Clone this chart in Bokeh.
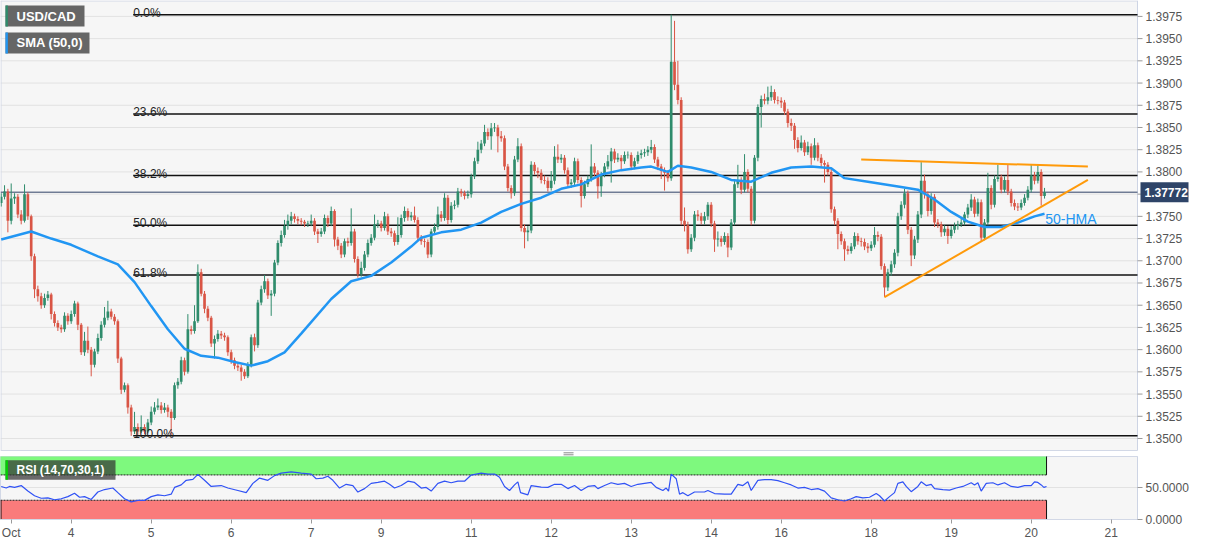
import numpy as np
from bokeh.plotting import figure
from bokeh.layouts import column
from bokeh.models import (Range1d, FixedTicker, Label, BoxAnnotation,
                          ColumnDataSource, NumeralTickFormatter)
from bokeh.core.properties import value
from bokeh.embed import file_html
from bokeh.resources import INLINE

# ---------------- data (hourly USD/CAD candles, index = hour slot) ----------------
open_first = 1.3765
close = [
1.3772,1.3778,1.3745,1.3770,1.3772,1.3752,1.3745,1.3775,1.3750,1.3705,
1.3668,1.3660,1.3650,1.3658,1.3662,1.3640,1.3630,1.3625,1.3623,1.3638,
1.3632,1.3640,1.3652,1.3628,1.3597,1.3610,1.3600,1.3583,1.3598,1.3613,
1.3628,1.3636,1.3643,1.3637,1.3632,1.3590,1.3555,1.3560,1.3535,1.3508,
1.3513,1.3508,1.3513,1.3508,1.3518,1.3530,1.3535,1.3537,1.3532,1.3535,
1.3530,1.3523,1.3560,1.3564,1.3588,1.3575,1.3623,1.3621,1.3632,1.3687,
1.3663,1.3646,1.3636,1.3607,1.3612,1.3618,1.3616,1.3614,1.3597,1.3588,
1.3582,1.3580,1.3575,1.3570,1.3583,1.3614,1.3605,1.3653,1.3668,1.3677,
1.3661,1.3663,1.3698,1.3720,1.3729,1.3739,1.3745,1.3750,1.3747,1.3745,
1.3744,1.3742,1.3742,1.3745,1.3733,1.3730,1.3733,1.3748,1.3742,1.3756,
1.3724,1.3717,1.3707,1.3722,1.3720,1.3733,1.3702,1.3685,1.3692,1.3707,
1.3720,1.3726,1.3741,1.3742,1.3737,1.3750,1.3733,1.3731,1.3721,1.3729,
1.3748,1.3756,1.3749,1.3751,1.3746,1.3726,1.3722,1.3721,1.3707,1.3733,
1.3738,1.3752,1.3748,1.3771,1.3746,1.3762,1.3763,1.3778,1.3776,1.3773,
1.3775,1.3795,1.3812,1.3825,1.3832,1.3845,1.3840,1.3849,1.3850,1.3840,
1.3838,1.3806,1.3782,1.3776,1.3814,1.3829,1.3737,1.3732,1.3734,1.3808,
1.3801,1.3799,1.3791,1.3790,1.3782,1.3790,1.3817,1.3814,1.3816,1.3802,
1.3786,1.3788,1.3812,1.3791,1.3773,1.3786,1.3792,1.3806,1.3799,1.3784,
1.3797,1.3806,1.3812,1.3823,1.3814,1.3816,1.3812,1.3819,1.3819,1.3806,
1.3812,1.3819,1.3821,1.3822,1.3825,1.3828,1.3814,1.3806,1.3801,1.3799,
1.3793,1.3924,1.3898,1.3881,1.3745,1.3740,1.3713,1.3726,1.3752,1.3750,
1.3745,1.3750,1.3763,1.3742,1.3724,1.3725,1.3721,1.3728,1.3715,1.3743,
1.3786,1.3790,1.3780,1.3800,1.3781,1.3745,1.3816,1.3873,1.3882,1.3880,
1.3884,1.3890,1.3881,1.3880,1.3878,1.3868,1.3855,1.3852,1.3836,1.3827,
1.3833,1.3822,1.3829,1.3816,1.3830,1.3816,1.3810,1.3808,1.3800,1.3758,
1.3745,1.3730,1.3722,1.3713,1.3711,1.3716,1.3728,1.3722,1.3721,1.3716,
1.3714,1.3718,1.3729,1.3727,1.3694,1.3670,1.3687,1.3696,1.3709,1.3750,
1.3763,1.3776,1.3735,1.3706,1.3724,1.3752,1.3790,1.3775,1.3756,1.3772,
1.3743,1.3741,1.3732,1.3736,1.3728,1.3735,1.3739,1.3741,1.3743,1.3752,
1.3760,1.3769,1.3753,1.3766,1.3726,1.3743,1.3782,1.3763,1.3792,1.3794,
1.3780,1.3791,1.3778,1.3765,1.3761,1.3760,1.3765,1.3771,1.3780,1.3796,
1.3790,1.3800,1.3773,1.3777]

high = [
1.3776,1.3785,1.3781,1.3787,1.3776,1.3775,1.3757,1.3786,1.3777,1.3752,
1.3708,1.3672,1.3664,1.3663,1.3666,1.3664,1.3643,1.3633,1.3628,1.3642,
1.3641,1.3644,1.3655,1.3654,1.3630,1.3620,1.3626,1.3603,1.3601,1.3618,
1.3632,1.3648,1.3655,1.3646,1.3640,1.3634,1.3592,1.3563,1.3562,1.3538,
1.3530,1.3517,1.3526,1.3516,1.3522,1.3536,1.3541,1.3545,1.3541,1.3540,
1.3538,1.3533,1.3563,1.3568,1.3592,1.3591,1.3640,1.3627,1.3650,1.3696,
1.3691,1.3666,1.3649,1.3638,1.3616,1.3622,1.3621,1.3619,1.3616,1.3600,
1.3591,1.3586,1.3583,1.3578,1.3586,1.3617,1.3618,1.3656,1.3672,1.3684,
1.3680,1.3667,1.3701,1.3723,1.3734,1.3746,1.3752,1.3755,1.3753,1.3750,
1.3748,1.3746,1.3745,1.3752,1.3748,1.3736,1.3737,1.3752,1.3751,1.3761,
1.3758,1.3727,1.3720,1.3725,1.3726,1.3759,1.3736,1.3705,1.3699,1.3711,
1.3724,1.3730,1.3752,1.3746,1.3745,1.3755,1.3753,1.3737,1.3734,1.3749,
1.3752,1.3761,1.3759,1.3755,1.3761,1.3749,1.3729,1.3725,1.3724,1.3736,
1.3742,1.3761,1.3756,1.3776,1.3774,1.3766,1.3768,1.3782,1.3781,1.3779,
1.3779,1.3798,1.3816,1.3834,1.3836,1.3853,1.3849,1.3855,1.3855,1.3853,
1.3846,1.3841,1.3809,1.3785,1.3818,1.3838,1.3832,1.3741,1.3739,1.3812,
1.3811,1.3805,1.3803,1.3796,1.3794,1.3801,1.3829,1.3831,1.3820,1.3819,
1.3805,1.3792,1.3816,1.3815,1.3794,1.3790,1.3796,1.3831,1.3810,1.3802,
1.3800,1.3810,1.3819,1.3827,1.3826,1.3821,1.3819,1.3823,1.3823,1.3822,
1.3816,1.3823,1.3825,1.3826,1.3829,1.3836,1.3831,1.3817,1.3809,1.3805,
1.3802,1.3977,1.3970,1.3925,1.3884,1.3760,1.3744,1.3730,1.3756,1.3757,
1.3754,1.3755,1.3766,1.3766,1.3745,1.3733,1.3728,1.3732,1.3731,1.3747,
1.3792,1.3808,1.3794,1.3820,1.3803,1.3784,1.3819,1.3876,1.3886,1.3888,
1.3896,1.3897,1.3893,1.3885,1.3884,1.3881,1.3871,1.3860,1.3855,1.3839,
1.3841,1.3836,1.3834,1.3832,1.3838,1.3833,1.3820,1.3813,1.3811,1.3803,
1.3761,1.3748,1.3733,1.3725,1.3717,1.3720,1.3732,1.3731,1.3726,1.3725,
1.3720,1.3722,1.3738,1.3733,1.3730,1.3697,1.3691,1.3700,1.3713,1.3754,
1.3767,1.3781,1.3779,1.3738,1.3728,1.3756,1.3811,1.3797,1.3778,1.3776,
1.3775,1.3747,1.3744,1.3740,1.3739,1.3739,1.3743,1.3745,1.3747,1.3755,
1.3764,1.3775,1.3772,1.3770,1.3769,1.3747,1.3799,1.3785,1.3796,1.3808,
1.3797,1.3795,1.3808,1.3781,1.3769,1.3765,1.3769,1.3775,1.3784,1.3808,
1.3800,1.3808,1.3803,1.3782]

low = [
1.3761,1.3769,1.3732,1.3741,1.3764,1.3748,1.3741,1.3743,1.3746,1.3700,
1.3658,1.3654,1.3646,1.3647,1.3655,1.3634,1.3626,1.3621,1.3619,1.3620,
1.3628,1.3629,1.3637,1.3622,1.3594,1.3593,1.3596,1.3570,1.3580,1.3595,
1.3610,1.3625,1.3633,1.3634,1.3628,1.3585,1.3550,1.3552,1.3528,1.3503,
1.3505,1.3504,1.3506,1.3505,1.3506,1.3515,1.3527,1.3532,1.3528,1.3529,
1.3524,1.3504,1.3521,1.3556,1.3561,1.3571,1.3573,1.3617,1.3618,1.3630,
1.3660,1.3641,1.3632,1.3603,1.3590,1.3609,1.3612,1.3610,1.3593,1.3584,
1.3578,1.3576,1.3565,1.3567,1.3568,1.3580,1.3598,1.3602,1.3650,1.3664,
1.3657,1.3638,1.3660,1.3695,1.3716,1.3726,1.3735,1.3741,1.3743,1.3741,
1.3740,1.3738,1.3738,1.3739,1.3729,1.3720,1.3727,1.3730,1.3738,1.3739,
1.3716,1.3712,1.3703,1.3704,1.3716,1.3717,1.3698,1.3681,1.3682,1.3689,
1.3704,1.3717,1.3723,1.3737,1.3733,1.3734,1.3729,1.3727,1.3717,1.3718,
1.3726,1.3744,1.3745,1.3745,1.3743,1.3722,1.3718,1.3715,1.3703,1.3704,
1.3730,1.3735,1.3744,1.3745,1.3741,1.3743,1.3758,1.3760,1.3772,1.3769,
1.3770,1.3771,1.3792,1.3809,1.3821,1.3829,1.3836,1.3825,1.3845,1.3822,
1.3834,1.3802,1.3778,1.3770,1.3773,1.3811,1.3733,1.3714,1.3722,1.3731,
1.3797,1.3793,1.3787,1.3786,1.3778,1.3779,1.3786,1.3810,1.3810,1.3798,
1.3782,1.3782,1.3785,1.3787,1.3760,1.3770,1.3783,1.3789,1.3795,1.3770,
1.3772,1.3794,1.3803,1.3788,1.3810,1.3811,1.3803,1.3809,1.3815,1.3802,
1.3803,1.3809,1.3815,1.3817,1.3818,1.3821,1.3810,1.3802,1.3792,1.3779,
1.3789,1.3790,1.3892,1.3876,1.3740,1.3733,1.3708,1.3710,1.3722,1.3745,
1.3741,1.3741,1.3746,1.3738,1.3710,1.3716,1.3716,1.3718,1.3704,1.3712,
1.3740,1.3782,1.3775,1.3777,1.3777,1.3740,1.3742,1.3812,1.3850,1.3876,
1.3876,1.3880,1.3877,1.3876,1.3872,1.3864,1.3850,1.3846,1.3826,1.3822,
1.3824,1.3818,1.3819,1.3808,1.3813,1.3812,1.3806,1.3788,1.3796,1.3754,
1.3740,1.3713,1.3718,1.3700,1.3707,1.3708,1.3713,1.3718,1.3716,1.3712,
1.3709,1.3711,1.3715,1.3722,1.3690,1.3659,1.3666,1.3683,1.3692,1.3705,
1.3746,1.3759,1.3730,1.3694,1.3702,1.3720,1.3748,1.3770,1.3750,1.3752,
1.3738,1.3737,1.3727,1.3728,1.3719,1.3725,1.3731,1.3735,1.3738,1.3740,
1.3748,1.3756,1.3749,1.3750,1.3722,1.3723,1.3740,1.3758,1.3760,1.3789,
1.3776,1.3777,1.3774,1.3761,1.3757,1.3756,1.3757,1.3762,1.3768,1.3777,
1.3786,1.3787,1.3762,1.3770]

# 50-period hourly moving average, read at sample candles
sma_idx = [0, 9, 15, 21, 29, 35, 40, 45, 50, 55,
           60, 65, 70, 75, 80, 85, 90, 99, 105, 111,
           117, 123, 126, 132, 138, 144, 150, 156, 162, 168,
           174, 180, 186, 192, 195, 200, 203, 207, 213, 219,
           225, 231, 237, 243, 249, 253, 260, 270, 275, 280,
           285, 290, 295, 300, 305, 310, 313]
sma_val = [1.3724, 1.3733, 1.3725, 1.3718, 1.3705, 1.3696, 1.3676, 1.3649, 1.3623, 1.3601,
           1.3593, 1.3591, 1.3586, 1.3582, 1.3587, 1.3597, 1.3618, 1.3657, 1.3677, 1.3683,
           1.3698, 1.3716, 1.3726, 1.3732, 1.3735, 1.3743, 1.3755, 1.3764, 1.3771, 1.3781,
           1.3786, 1.3797, 1.3802, 1.3805, 1.3806, 1.3800, 1.3807, 1.3805, 1.3800, 1.3791,
           1.3789, 1.3799, 1.3805, 1.3806, 1.3804, 1.3793, 1.3789, 1.3783, 1.3780, 1.3769,
           1.3755, 1.3744, 1.3738, 1.3738, 1.3743, 1.3750, 1.3753]

# RSI(14)
rsi_idx = [0, 1.5, 2.5, 4, 6, 8, 10, 12, 14, 16,
           18, 20, 22, 23.5, 25, 27, 29, 31, 33.5, 35,
           37, 39, 41, 43, 45, 47, 49, 51, 52, 54,
           55.5, 57.5, 59, 61, 63, 66, 68, 71, 73.5, 75.5,
           77.5, 80, 82, 84, 87, 90, 93, 94.5, 96.5, 98,
           99.5, 101.5, 103.5, 105.5, 107, 109, 111, 113, 115, 116.5,
           118, 120, 122, 124, 126, 127.5, 129, 131, 133, 135,
           137, 139, 141, 144, 146, 148, 149.5, 151, 152.5, 154,
           155, 155.8, 158, 159, 162, 164, 166, 168, 170, 172,
           174, 176, 178, 179, 181, 183, 185, 187, 189, 191,
           193, 195, 196.5, 198.5, 199.5, 200.2, 201, 202.5, 203.5, 204.5,
           206, 208, 211, 212, 214, 217, 219, 221, 222.5, 224,
           225, 227, 229, 231, 233, 235, 237, 239, 241, 243,
           245, 247, 249, 251, 253, 255, 256.5, 258.5, 260.5, 262.5,
           263.5, 265, 266.5, 268, 269, 270.5, 271.5, 273, 275, 276,
           277.5, 279, 280, 282.5, 284.5, 286.5, 288.5, 291, 292, 293,
           294, 295.5, 297.5, 299, 301, 303, 305, 307, 309, 310,
           311, 312, 312.8, 313.6]
rsi_val = [51.8, 49.3, 51.8, 50.3, 53.2, 44.5, 37.1, 33.2, 33.7, 30.8,
           32.3, 35.7, 41.0, 34.7, 35.7, 31.3, 43.0, 46.9, 49.3, 42.0,
           32.3, 27.4, 29.8, 29.8, 35.7, 38.6, 37.1, 39.6, 50.3, 54.2,
           61.5, 63.0, 70.8, 61.5, 51.8, 53.2, 49.3, 45.4, 42.0, 56.7,
           65.0, 61.5, 68.9, 72.8, 74.7, 72.8, 71.3, 64.0, 65.0, 67.9,
           61.5, 49.3, 55.2, 53.2, 43.0, 48.4, 56.7, 58.1, 60.1, 55.2,
           49.3, 53.2, 60.1, 58.1, 49.3, 50.3, 44.5, 56.7, 60.1, 57.6,
           60.1, 60.1, 69.8, 72.8, 71.3, 71.3, 66.4, 51.8, 45.4, 54.2,
           59.1, 42.0, 38.6, 53.2, 50.8, 50.3, 55.2, 55.2, 48.4, 53.2,
           45.4, 51.8, 53.2, 48.4, 53.2, 57.6, 55.2, 56.7, 51.8, 55.2,
           56.7, 58.1, 50.3, 45.4, 49.3, 44.5, 71.3, 64.0, 39.6, 42.0,
           37.1, 43.0, 43.0, 45.4, 40.6, 39.6, 39.6, 55.2, 53.2, 59.1,
           45.4, 61.5, 62.5, 62.5, 61.0, 57.6, 54.2, 49.3, 50.3, 46.9,
           48.4, 44.5, 33.7, 30.8, 28.8, 32.3, 35.7, 33.7, 34.7, 40.6,
           37.1, 28.8, 35.7, 42.0, 56.7, 59.1, 51.8, 43.5, 51.8, 59.1,
           53.2, 55.2, 48.4, 46.9, 45.9, 49.3, 51.8, 57.6, 54.2, 57.6,
           44.5, 56.7, 57.6, 54.2, 57.6, 51.8, 50.3, 53.2, 53.2, 59.1,
           58.1, 54.2, 50.3, 51.8]

# trend lines (symmetrical triangle) drawn on the chart
trend_top_idx = [258, 326]
trend_top_px = [1.3814, 1.3806]
trend_bot_idx = [265, 326]
trend_bot_px = [1.3659, 1.3791]

fib_ratios = [0.0, 0.236, 0.382, 0.5, 0.618, 1.0]
fib_names = ["0.0%", "23.6%", "38.2%", "50.0%", "61.8%", "100.0%"]
last_price = 1.37772
price_ticks = [1.3500, 1.3525, 1.3550, 1.3575, 1.3600, 1.3625, 1.3650, 1.3675,
               1.3700, 1.3725, 1.3750, 1.3775, 1.3800, 1.3825, 1.3850, 1.3875,
               1.3900, 1.3925, 1.3950, 1.3975]
rsi_ticks = [0, 50]
day_tick_idx = [3, 21, 45, 69, 93, 114, 141, 165, 189, 213, 234, 261, 285, 309, 333]
day_tick_lbl = ["Oct", "4", "5", "6", "7", "9", "11", "12", "13", "14", "16", "18", "19", "20", "21"]

# ---------------- styling / layout ----------------
FONT = "Liberation Sans"
GREEN = "#2f8c6c"
RED = "#d95545"
BLUE = "#2196f3"
BG = "#f6f6f6"
EDGE = "#d2d8e6"
AXC = "#cdd4e4"

PXU = 1137 / 341.1            # pixels per candle slot
X0 = -0.21
X_AX = X0 + 1137 / PXU        # right edge of the plotting area (price axis line)
X_END = X0 + 1191 / PXU       # canvas right edge
P_BOT, P_TOP = 1.34865, 1.39929
PLOT_H = 450
GAP = 6
UPP = (P_TOP - P_BOT) / PLOT_H   # price units per pixel

n = len(close)
opens = [open_first] + close[:-1]
tops, bots, cols = [], [], []
for o, c in zip(opens, close):
    t, b = max(o, c), min(o, c)
    if t - b < 0.00006:
        m = (t + b) / 2
        t, b = m + 0.00003, m - 0.00003
    tops.append(t)
    bots.append(b)
    cols.append(GREEN if c >= o else RED)
src = ColumnDataSource(dict(x=list(range(n)), h=high, l=low, top=tops, bot=bots, col=cols))

main = figure(frame_width=1191, frame_height=PLOT_H + GAP,
              x_range=Range1d(X0, X_END), y_range=Range1d(P_BOT - GAP * UPP, P_TOP),
              output_backend="svg", toolbar_location=None,
              x_axis_location=None, y_axis_location=None,
              min_border_left=0, min_border_top=0, min_border_bottom=0, min_border_right=0,
              background_fill_color="white", border_fill_color="white",
              outline_line_color=None)
main.xgrid.grid_line_color = None
main.ygrid.grid_line_color = None

# plotting area background, grid, borders, hand-drawn price axis
main.quad(left=X0 - 1, right=X_AX, bottom=P_BOT, top=P_TOP + UPP, fill_color=BG, line_color=None)
main.segment(x0=X0, x1=X_AX, y0=price_ticks, y1=price_ticks, line_color="#e2e2e2", line_width=1)
main.segment(x0=X0 + 0.15, x1=X0 + 0.15, y0=P_BOT, y1=P_TOP, line_color=EDGE, line_width=1)
main.segment(x0=X0, x1=X_AX, y0=P_TOP - 0.5 * UPP, y1=P_TOP - 0.5 * UPP, line_color=EDGE, line_width=1)
main.segment(x0=X0, x1=X_AX, y0=P_BOT, y1=P_BOT, line_color=EDGE, line_width=1)
main.segment(x0=X_AX, x1=X_AX, y0=P_BOT, y1=P_TOP, line_color=AXC, line_width=1)
main.segment(x0=X_AX, x1=X_AX + 5 / PXU, y0=price_ticks, y1=price_ticks, line_color="#9a9a9a", line_width=1)
main.text(x=[X_AX + 8 / PXU] * len(price_ticks), y=price_ticks,
          text=["%.4f" % t for t in price_ticks], text_font=value(FONT),
          text_font_size="12px", text_color="#555555", text_baseline="middle", text_align="left")

# panel splitter handle
main.segment(x0=170.2 - 5 / PXU, x1=170.2 + 5 / PXU, y0=P_BOT - 2.3 * UPP, y1=P_BOT - 2.3 * UPP,
             line_color="#8a8a8a", line_width=1)
main.segment(x0=170.2 - 5 / PXU, x1=170.2 + 5 / PXU, y0=P_BOT - 4.3 * UPP, y1=P_BOT - 4.3 * UPP,
             line_color="#8a8a8a", line_width=1)

# Fibonacci retracement from swing low to CPI high
hi = max(high)
lo = min(low)
fib_x0 = int(np.argmin(low)) + 0.6
for r, name in zip(fib_ratios, fib_names):
    lvl = hi - r * (hi - lo)
    main.segment(x0=fib_x0, y0=lvl, x1=X_AX, y1=lvl, line_color="#111111", line_width=1.5)
    main.add_layout(Label(x=fib_x0, y=lvl, text=name, text_font=FONT, text_font_size="12px",
                          text_color="#222222", text_baseline="alphabetic", y_offset=2))

# last price line
main.segment(x0=X0, x1=X_AX, y0=last_price, y1=last_price, line_color="#2e4165", line_width=1)

# candles
main.segment(x0="x", y0="h", x1="x", y1="l", source=src, line_color="col", line_width=1)
main.vbar(x="x", width=0.8, top="top", bottom="bot", source=src, fill_color="col", line_color=None)

# moving average and trend lines
main.line(sma_idx, sma_val, line_color=BLUE, line_width=2.5)
main.line(trend_top_idx, trend_top_px, line_color="#ff9a0a", line_width=2)
main.line(trend_bot_idx, trend_bot_px, line_color="#ff9a0a", line_width=2)

main.add_layout(Label(x=313.2, y=1.37475, text="50-HMA", text_font=FONT, text_font_size="14px",
                      text_color=BLUE, text_baseline="middle"))

# legend boxes top-left
main.add_layout(BoxAnnotation(left=1.29, right=24.99, bottom=1.39636, top=1.39873,
                              fill_color="#666666", fill_alpha=1.0, line_color=None))
main.add_layout(BoxAnnotation(left=1.29, right=2.0, bottom=1.39636, top=1.39873,
                              fill_color=GREEN, fill_alpha=1.0, line_color=None))
main.add_layout(BoxAnnotation(left=1.29, right=26.49, bottom=1.39333, top=1.39569,
                              fill_color="#666666", fill_alpha=1.0, line_color=None))
main.add_layout(BoxAnnotation(left=1.29, right=2.0, bottom=1.39333, top=1.39569,
                              fill_color=BLUE, fill_alpha=1.0, line_color=None))
main.add_layout(Label(x=4.6, y=1.39754, text="USD/CAD", text_font=FONT, text_font_size="13px",
                      text_font_style="bold", text_color="white", text_baseline="middle"))
main.add_layout(Label(x=4.6, y=1.39451, text="SMA (50,0)", text_font=FONT, text_font_size="13px",
                      text_font_style="bold", text_color="white", text_baseline="middle"))

# price tag on the right axis
main.quad(left=X_AX + 3 / PXU, right=X_AX + 51 / PXU, bottom=last_price - 10 * UPP,
          top=last_price + 10 * UPP, fill_color="#2e4468", line_color=None)
main.text(x=[X_AX + 7 / PXU], y=[last_price], text=["%.5f" % last_price], text_font=value(FONT),
          text_font_size="12px", text_font_style="bold", text_color="white",
          text_baseline="middle", text_align="left")

# ---------------- RSI panel ----------------
rsi = figure(frame_width=1137, frame_height=63, x_range=Range1d(X0, X_AX), y_range=Range1d(-0.4, 99.1),
             output_backend="svg", toolbar_location=None, y_axis_location="right",
             min_border_left=0, min_border_top=0, min_border_bottom=0, min_border_right=54,
             background_fill_color=BG, border_fill_color="white", outline_line_color=EDGE)

band_end = n - 1 + 0.6
rsi.quad(left=X0 - 1, right=band_end, bottom=70, top=100, fill_color="#7ef97e", line_color=None)
rsi.quad(left=X0 - 1, right=band_end, bottom=0, top=30, fill_color="#fa7b7b", line_color=None)
rsi.segment(x0=X0, y0=70, x1=band_end, y1=70, line_color="#222222", line_width=1, line_dash="2 1")
rsi.segment(x0=X0, y0=30, x1=band_end, y1=30, line_color="#222222", line_width=1, line_dash="2 1")
rsi.segment(x0=band_end, y0=70, x1=band_end, y1=100, line_color="#111111", line_width=1)
rsi.segment(x0=band_end, y0=0, x1=band_end, y1=30, line_color="#111111", line_width=1)
rsi.segment(x0=X0 + 0.15, y0=0, x1=X0 + 0.15, y1=30, line_color="#111111", line_width=1)
rsi.line(rsi_idx, rsi_val, line_color="#3052f5", line_width=1.2)

rsi.add_layout(BoxAnnotation(left=1.29, right=34.29, bottom=62.5, top=93.25,
                             fill_color="#333333", fill_alpha=0.72, line_color=None))
rsi.add_layout(BoxAnnotation(left=1.29, right=2.0, bottom=62.5, top=93.25,
                             fill_color="#00d000", fill_alpha=1.0, line_color=None))
rsi.add_layout(Label(x=4.6, y=77.9, text="RSI (14,70,30,1)", text_font=FONT, text_font_size="12px",
                     text_font_style="bold", text_color="white", text_baseline="middle"))

rsi.yaxis.ticker = FixedTicker(ticks=rsi_ticks)
rsi.yaxis.formatter = NumeralTickFormatter(format="0.0000")
rsi.yaxis.axis_line_color = AXC
rsi.yaxis.major_tick_line_color = "#9a9a9a"
rsi.yaxis.major_tick_out = 5
rsi.yaxis.major_tick_in = 0
rsi.yaxis.minor_tick_line_color = None
rsi.yaxis.major_label_text_font = FONT
rsi.yaxis.major_label_text_font_size = "12px"
rsi.yaxis.major_label_text_color = "#555555"
rsi.yaxis.major_label_standoff = 3
rsi.ygrid.grid_line_color = "#e2e2e2"
rsi.xgrid.grid_line_color = None

rsi.xaxis.ticker = FixedTicker(ticks=day_tick_idx)
rsi.xaxis.major_label_overrides = {k: v for k, v in zip(day_tick_idx, day_tick_lbl)}
rsi.xaxis.axis_line_color = EDGE
rsi.xaxis.major_tick_line_color = "#9a9a9a"
rsi.xaxis.major_tick_out = 4
rsi.xaxis.major_tick_in = 0
rsi.xaxis.minor_tick_line_color = None
rsi.xaxis.major_label_text_font = FONT
rsi.xaxis.major_label_text_font_size = "12px"
rsi.xaxis.major_label_text_color = "#555555"
rsi.xaxis.major_label_standoff = 2

layout = column(main, rsi, spacing=0)
open("out.html", "w").write(file_html(layout, INLINE))
